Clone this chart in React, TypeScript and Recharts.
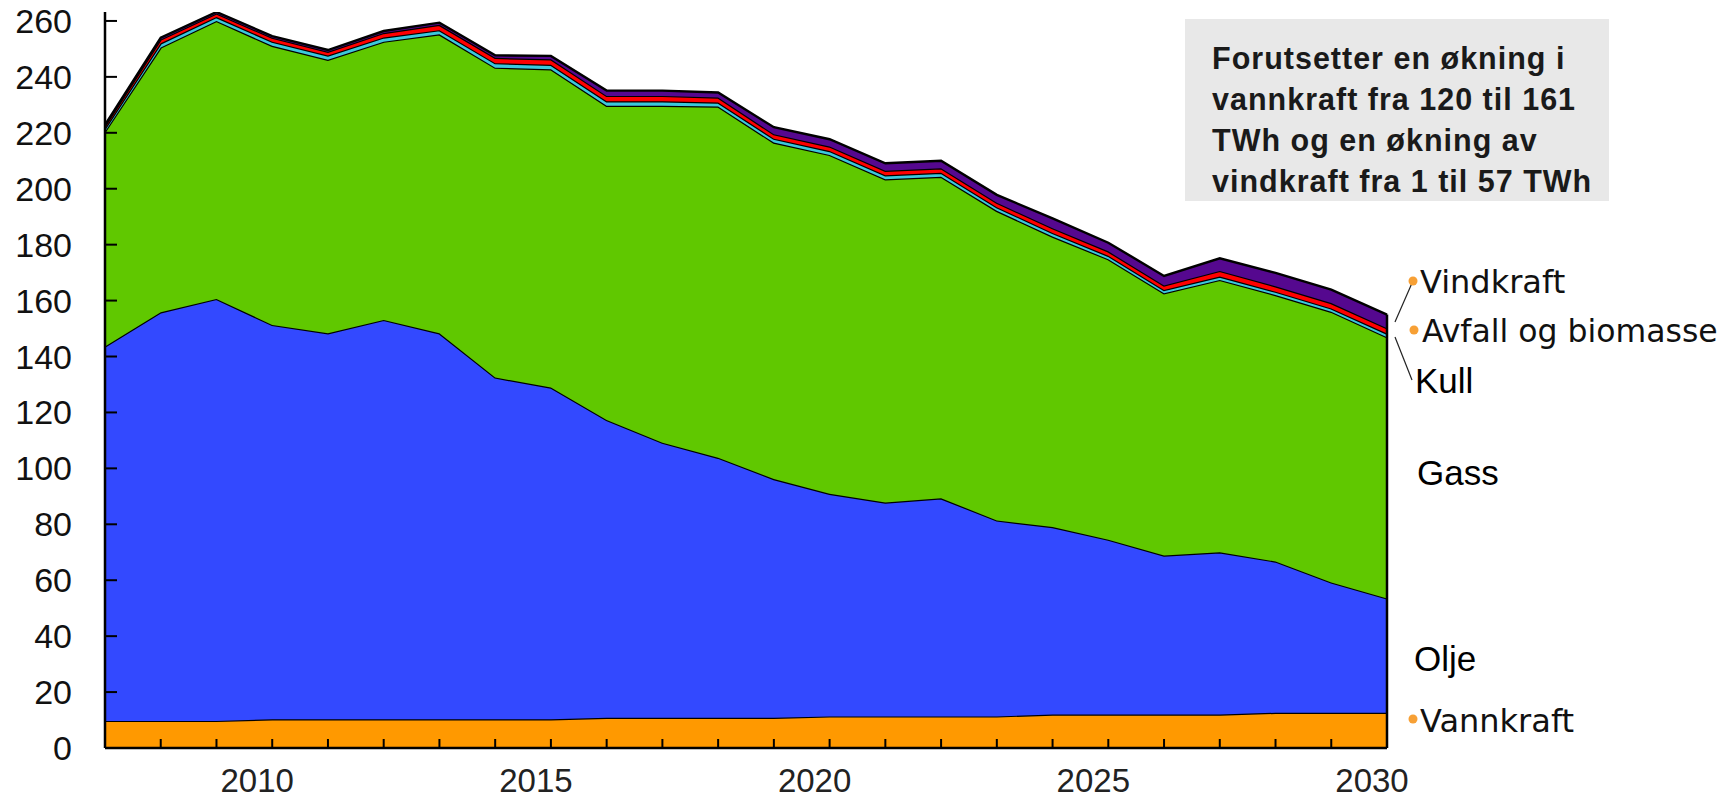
import React from "react";
import { AreaChart, Area, XAxis, YAxis, ReferenceLine } from "recharts";

const years = [2007, 2008, 2009, 2010, 2011, 2012, 2013, 2014, 2015, 2016, 2017, 2018, 2019, 2020, 2021, 2022, 2023, 2024, 2025, 2026, 2027, 2028, 2029, 2030];
const vannkraft = [9.7, 9.7, 9.7, 10.3, 10.3, 10.3, 10.3, 10.3, 10.3, 10.8, 10.8, 10.8, 10.8, 11.3, 11.3, 11.3, 11.3, 12.0, 12.0, 12.0, 12.0, 12.6, 12.6, 12.6];
const olje = [133.9, 146.1, 150.9, 141.0, 138.0, 142.8, 138.0, 122.2, 118.6, 106.5, 98.4, 93.0, 85.4, 79.6, 76.5, 78.0, 70.1, 67.0, 62.5, 56.8, 58.0, 54.1, 46.6, 40.9];
const gass = [76.8, 94.7, 99.4, 99.8, 97.8, 99.5, 106.9, 110.8, 113.8, 112.4, 120.5, 125.6, 120.3, 121.2, 115.6, 115.0, 110.7, 103.9, 100.3, 93.8, 97.4, 95.3, 96.8, 93.4];
const kull = [1.1, 1.5, 1.4, 1.5, 1.5, 1.5, 1.5, 1.6, 1.6, 1.6, 1.6, 1.4, 1.4, 1.4, 1.4, 1.4, 1.3, 1.3, 1.2, 1.2, 1.2, 1.2, 1.2, 1.3];
const avfall = [0.9, 1.4, 1.3, 1.4, 1.4, 1.6, 1.9, 1.9, 2.0, 1.9, 1.9, 1.8, 1.6, 1.6, 1.6, 1.6, 1.6, 1.7, 1.6, 1.6, 2.0, 1.9, 1.9, 1.9];
const vindkraft = [0.4, 0.6, 0.5, 0.6, 0.6, 0.7, 0.8, 0.9, 1.2, 1.9, 1.9, 1.8, 2.5, 2.6, 2.7, 2.7, 2.8, 3.5, 3.1, 3.4, 4.5, 4.8, 4.8, 4.9];
const yTicks = [0, 20, 40, 60, 80, 100, 120, 140, 160, 180, 200, 220, 240, 260];
const xLabels = [2010, 2015, 2020, 2025, 2030];
const noteLines = [
  "Forutsetter en økning i",
  "vannkraft fra 120 til 161",
  "TWh og en økning av",
  "vindkraft fra 1 til 57 TWh",
];

const data = years.map((year, i) => ({
  year,
  vannkraft: vannkraft[i],
  olje: olje[i],
  gass: gass[i],
  kull: kull[i],
  avfall: avfall[i],
  vindkraft: vindkraft[i],
}));

const last = years.length - 1;
const lastTotal =
  vannkraft[last] + olje[last] + gass[last] + kull[last] + avfall[last] + vindkraft[last];

const tickFont = "'Liberation Sans', Arial, sans-serif";
const labelFont = "'DejaVu Sans', Verdana, sans-serif";

const XTick = (props: any) => {
  const { x, y, payload } = props;
  const show = xLabels.includes(payload.value);
  return (
    <g>
      <line x1={x} y1={y} x2={x} y2={y - 9} stroke="#000" strokeWidth={2} />
      {show && (
        <text x={x - 15} y={y + 44} textAnchor="middle" fontFamily={tickFont} fontSize={33} fill="#222">
          {payload.value}
        </text>
      )}
    </g>
  );
};

const YTick = (props: any) => {
  const { x, y, payload } = props;
  return (
    <g>
      <line x1={x} y1={y} x2={x + 12} y2={y} stroke="#000" strokeWidth={2} />
      <text x={x - 33} y={y + 12} textAnchor="end" fontFamily={tickFont} fontSize={34} fill="#111">
        {payload.value}
      </text>
    </g>
  );
};

const series = [
  { key: "vannkraft", color: "#FF9900" },
  { key: "olje", color: "#3349FF" },
  { key: "gass", color: "#60C800" },
  { key: "kull", color: "#3CC8DC" },
  { key: "avfall", color: "#FF0000" },
  { key: "vindkraft", color: "#55088F" },
];

export default function App() {
  return (
    <div style={{ position: "absolute", left: 0, top: 0, width: 1733, height: 802, background: "#fff" }}>
      <AreaChart
        width={1733}
        height={802}
        data={data}
        margin={{ top: 12, right: 346, bottom: 0, left: 0 }}
      >
        <XAxis
          dataKey="year"
          type="number"
          domain={[2007, 2030]}
          ticks={years}
          interval={0}
          tickSize={0}
          tickMargin={0}
          tickLine={false}
          axisLine={{ stroke: "#000", strokeWidth: 2.5 }}
          height={54}
          tick={<XTick />}
        />
        <YAxis
          type="number"
          domain={[0, 263.2]}
          ticks={yTicks}
          interval={0}
          allowDataOverflow
          tickSize={0}
          tickMargin={0}
          tickLine={false}
          axisLine={{ stroke: "#000", strokeWidth: 2.5 }}
          width={105}
          tick={<YTick />}
        />
        {series.map((s) => (
          <Area
            key={s.key}
            type="linear"
            dataKey={s.key}
            stackId="1"
            fill={s.color}
            fillOpacity={1}
            stroke="#000"
            strokeWidth={2.4}
            dot={false}
            activeDot={false}
            isAnimationActive={false}
          />
        ))}
        <ReferenceLine
          segment={[
            { x: 2030, y: 0 },
            { x: 2030, y: lastTotal },
          ]}
          stroke="#000"
          strokeWidth={2.5}
        />
      </AreaChart>
      <svg
        width={1733}
        height={802}
        style={{ position: "absolute", left: 0, top: 0, pointerEvents: "none" }}
      >
        <rect x={1185} y={19} width={424} height={182} fill="#E8E8E8" />
        {noteLines.map((t, i) => (
          <text
            key={i}
            x={1212}
            y={69 + i * 41}
            fontFamily={tickFont}
            fontWeight="bold"
            fontSize={30.5}
            letterSpacing={1}
            fill="#1a1a1a"
          >
            {t}
          </text>
        ))}
        <line x1={1412} y1={283} x2={1395} y2={322} stroke="#222" strokeWidth={1.2} />
        <line x1={1395} y1={337} x2={1412} y2={380} stroke="#222" strokeWidth={1.2} />
        <circle cx={1413} cy={281} r={4.5} fill="#F7A035" />
        <text x={1420} y={293} fontFamily={labelFont} fontSize={32} fill="#111">Vindkraft</text>
        <circle cx={1414} cy={330} r={4.5} fill="#F7A035" />
        <text x={1422} y={342} fontFamily={labelFont} fontSize={31.5} fill="#111">Avfall og biomasse</text>
        <text x={1415} y={393} fontFamily={tickFont} fontSize={35} fill="#000">Kull</text>
        <text x={1417} y={485} fontFamily={tickFont} fontSize={35} fill="#000">Gass</text>
        <text x={1414} y={671} fontFamily={tickFont} fontSize={35} fill="#000">Olje</text>
        <circle cx={1413} cy={719} r={4.5} fill="#F7A035" />
        <text x={1420} y={732} fontFamily={labelFont} fontSize={32} fill="#111">Vannkraft</text>
      </svg>
    </div>
  );
}
